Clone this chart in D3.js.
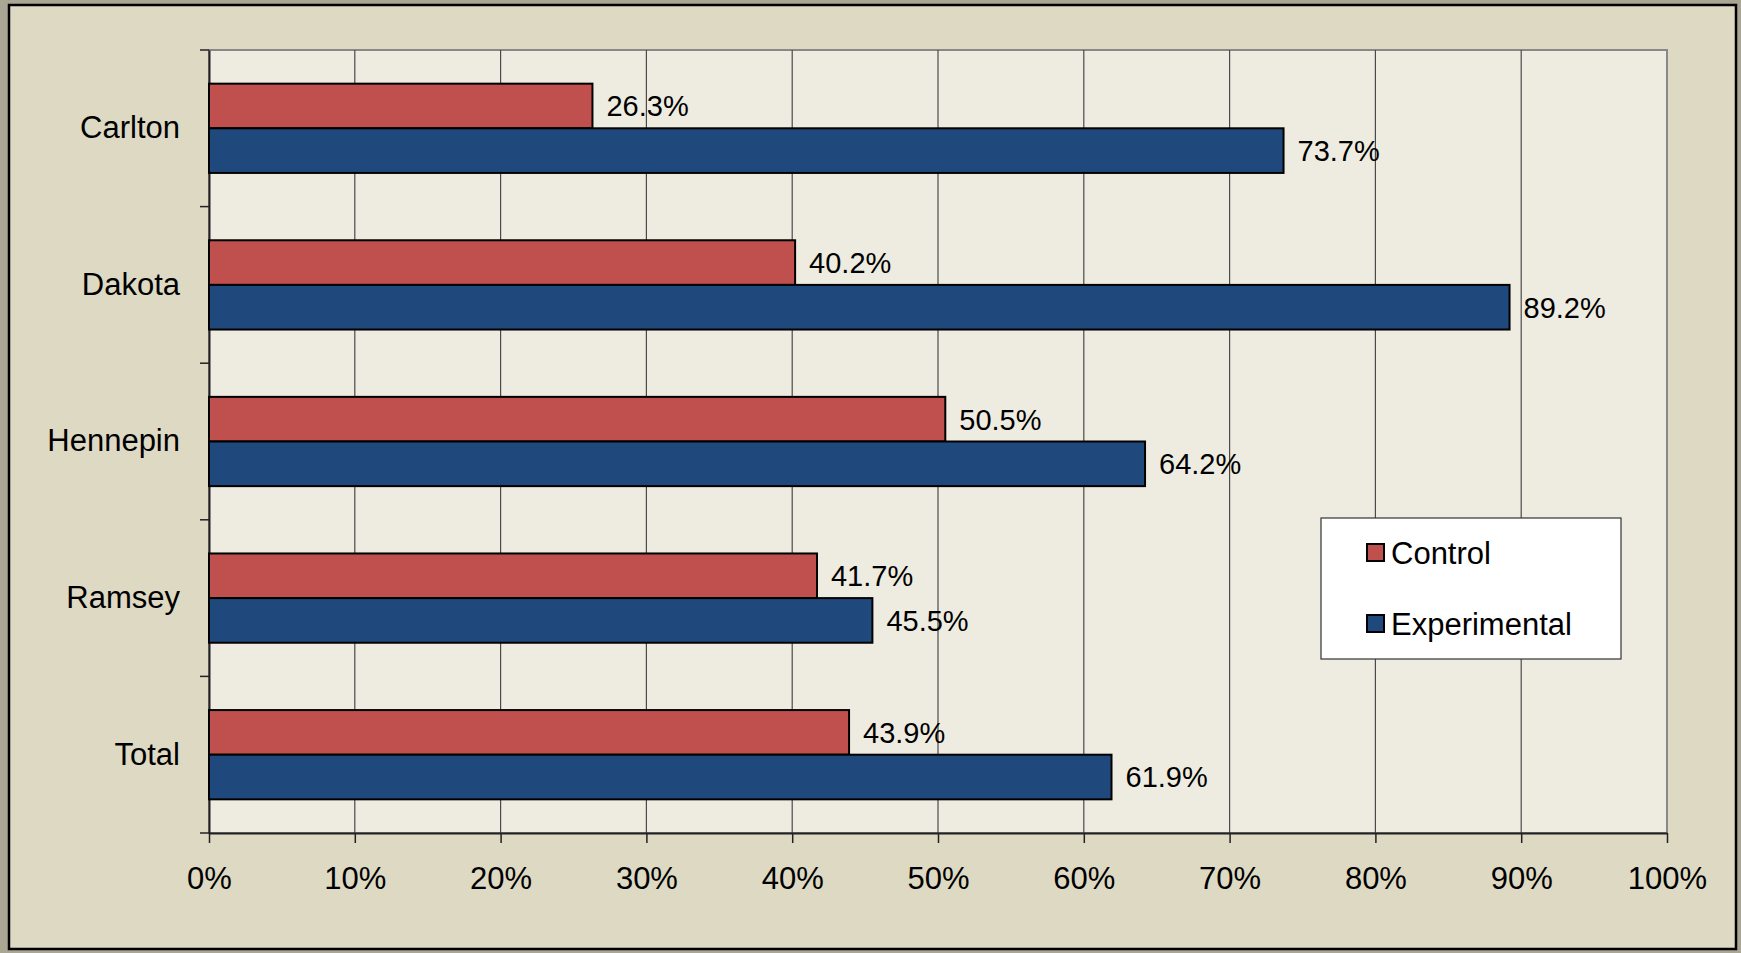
<!DOCTYPE html>
<html><head><meta charset="utf-8">
<script src="https://cdn.jsdelivr.net/npm/d3@7"></script>
<style>html,body{margin:0;padding:0;background:#a9a693;}svg{display:block;}</style>
</head><body>
<script>
const categories = ["Carlton", "Dakota", "Hennepin", "Ramsey", "Total"];
const seriesNames = ["Control", "Experimental"];
const controlValues = [26.3, 40.2, 50.5, 41.7, 43.9];
const experimentalValues = [73.7, 89.2, 64.2, 45.5, 61.9];
const xTicks = [0, 10, 20, 30, 40, 50, 60, 70, 80, 90, 100];
const colors = ["#c0504d", "#1f497d"];

const W = 1741, H = 953;
const plot = {left: 209, top: 50, right: 1667, bottom: 833};
const font = "'Liberation Sans', Arial, sans-serif";

const svg = d3.select("body").append("svg").attr("width", W).attr("height", H);

// outer frame
svg.append("rect").attr("x", 0).attr("y", 0).attr("width", W).attr("height", H).attr("fill", "#a9a693");
svg.append("rect").attr("x", 9).attr("y", 5).attr("width", 1727).attr("height", 944)
  .attr("fill", "#ddd9c3").attr("stroke", "#000").attr("stroke-width", 2.5);

// plot area
svg.append("rect").attr("x", plot.left).attr("y", plot.top)
  .attr("width", plot.right - plot.left).attr("height", plot.bottom - plot.top)
  .attr("fill", "#eeece1").attr("stroke", "#888").attr("stroke-width", 2);

const x = d3.scaleLinear().domain([0, 100]).range([plot.left, plot.right]);
const y = d3.scaleBand().domain(categories).range([plot.top, plot.bottom]).paddingInner(0.43).paddingOuter(0.215);
const y0 = d3.scaleBand().domain(categories).range([plot.top, plot.bottom]);
const ySub = d3.scaleBand().domain(seriesNames).range([0, y.bandwidth()]);

// gridlines
svg.append("g").selectAll("line").data(xTicks.slice(1, -1)).join("line")
  .attr("x1", d => x(d)).attr("x2", d => x(d))
  .attr("y1", plot.top).attr("y2", plot.bottom)
  .attr("stroke", "#4a4a4a").attr("stroke-width", 1.2);

// x axis
const xAxis = svg.append("g").attr("transform", `translate(0,${plot.bottom})`)
  .call(d3.axisBottom(x).tickValues(xTicks).tickFormat(d => d + "%").tickSize(10).tickSizeOuter(0).tickPadding(24));
xAxis.select(".domain").attr("stroke", "#222").attr("stroke-width", 2);
xAxis.selectAll(".tick line").attr("stroke", "#222").attr("stroke-width", 1.5);
xAxis.selectAll("text").attr("font-family", font).attr("font-size", 31).attr("fill", "#000");

// y axis
const yAxis = svg.append("g").attr("transform", `translate(${plot.left},0)`)
  .call(d3.axisLeft(y0).tickSize(0).tickPadding(29));
yAxis.select(".domain").attr("stroke", "#222").attr("stroke-width", 2);
yAxis.selectAll("text").attr("font-family", font).attr("font-size", 31).attr("fill", "#000");
// category boundary ticks
const bounds = categories.map(c => y0(c)).concat([plot.bottom]);
svg.append("g").selectAll("line").data(bounds).join("line")
  .attr("x1", plot.left - 9).attr("x2", plot.left)
  .attr("y1", d => d).attr("y2", d => d)
  .attr("stroke", "#222").attr("stroke-width", 1.5);

// bars
const rows = categories.map((c, i) => ({cat: c, vals: [controlValues[i], experimentalValues[i]]}));
const g = svg.append("g");
rows.forEach(r => {
  r.vals.forEach((v, j) => {
    const yy = y(r.cat) + ySub(seriesNames[j]);
    g.append("rect").attr("x", x(0)).attr("y", yy)
      .attr("width", x(v) - x(0)).attr("height", ySub.bandwidth())
      .attr("fill", colors[j]).attr("stroke", "#000").attr("stroke-width", 2);
    g.append("text").attr("x", x(v) + 14).attr("y", yy + ySub.bandwidth() / 2).attr("dy", "0.36em")
      .attr("font-family", font).attr("font-size", 29).attr("fill", "#000")
      .text(v.toFixed(1) + "%");
  });
});

// legend
const lg = svg.append("g");
lg.append("rect").attr("x", 1321).attr("y", 518).attr("width", 300).attr("height", 141)
  .attr("fill", "#fff").attr("stroke", "#333").attr("stroke-width", 1.2);
seriesNames.forEach((s, i) => {
  const cy = 553 + i * 71;
  lg.append("rect").attr("x", 1367).attr("y", cy - 9).attr("width", 17).attr("height", 17)
    .attr("fill", colors[i]).attr("stroke", "#000").attr("stroke-width", 2);
  lg.append("text").attr("x", 1391).attr("y", cy).attr("dy", "0.36em")
    .attr("font-family", font).attr("font-size", 31).attr("fill", "#000").text(s);
});
</script>
</body></html>
